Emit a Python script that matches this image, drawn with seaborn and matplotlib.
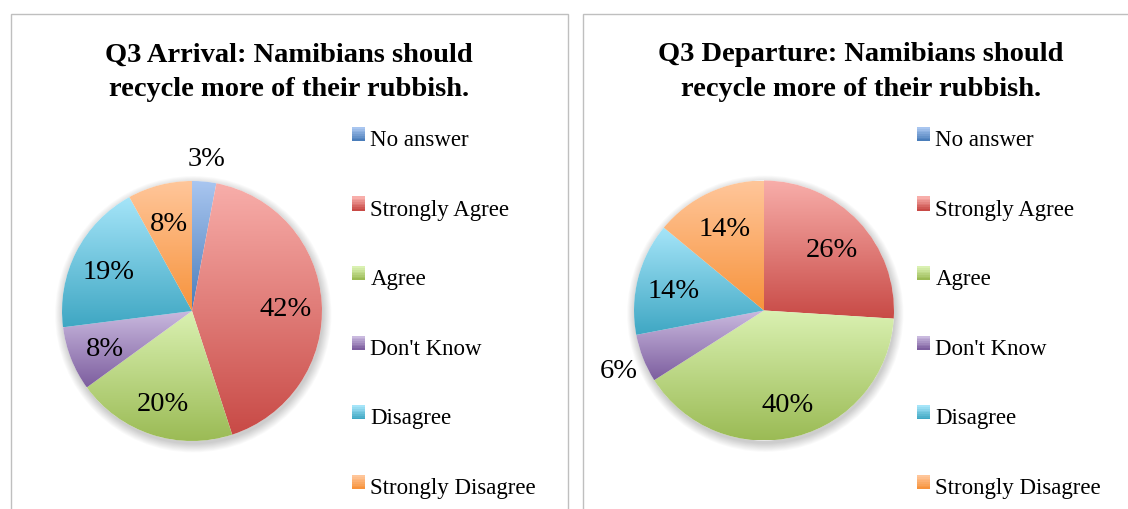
import numpy as np
import matplotlib
matplotlib.use("Agg")
import matplotlib.pyplot as plt
from matplotlib.patches import Rectangle, Circle, Patch
from matplotlib.colors import ListedColormap
from matplotlib.legend_handler import HandlerBase
import seaborn as sns

# ---- data -------------------------------------------------------------
categories = ["No answer", "Strongly Agree", "Agree", "Don't Know",
              "Disagree", "Strongly Disagree"]
arrival_pct = [3, 42, 20, 8, 19, 8]
departure_pct = [0, 26, 40, 6, 14, 14]
titles = ["Q3 Arrival: Namibians should\nrecycle more of their rubbish.",
          "Q3 Departure: Namibians should\nrecycle more of their rubbish."]

# ---- style ------------------------------------------------------------
sns.set_theme(style="white")
plt.rcParams["font.family"] = ["Liberation Serif", "DejaVu Serif"]
plt.rcParams["text.color"] = "black"

light = ["#A9C6F0", "#F8AEAA", "#DAF1B2", "#CABADF", "#A6E5F9", "#FFC69A"]
dark = ["#4A7DBA", "#C84A46", "#9BBB55", "#7D5E9F", "#3FA7C3", "#F7933C"]
cmaps = [ListedColormap(sns.blend_palette([d, l], n_colors=256))
         for l, d in zip(light, dark)]

W, H = 1128, 510
fig = plt.figure(figsize=(W / 100, H / 100), dpi=100)
fig.patch.set_facecolor("white")

# panel frames
for x0 in (11, 583):
    fig.patches.append(Rectangle((x0 / W, -0.2), 557 / W, 1.2 - 15 / H,
                                 transform=fig.transFigure, fill=False,
                                 edgecolor="#BFBFBF", lw=1.0, zorder=0))


class GradientSquare(HandlerBase):
    """Legend key drawn as a small vertical colour ramp."""

    def __init__(self, cmap):
        super().__init__()
        self.cmap = cmap

    def create_artists(self, legend, orig_handle, xdescent, ydescent,
                       width, height, fontsize, trans):
        n = 8
        lift = 0.2 * height
        arts = []
        for i in range(n):
            r = Rectangle((-xdescent, -ydescent + lift + height * i / n),
                          width, height / n + 0.3,
                          facecolor=self.cmap(i / (n - 1)),
                          edgecolor="none", transform=trans)
            arts.append(r)
        return arts


R_PX = 130.0
LIM = 1.3
side = 2 * LIM * R_PX


def draw_pie(values, cx, cy, title, title_x, legend_x):
    ax = fig.add_axes([(cx - side / 2) / W, (H - cy - side / 2) / H,
                       side / W, side / H])
    ax.set_axis_off()

    # soft drop shadow under the pie
    for i in range(10):
        ax.add_patch(Circle((0.01, -0.025), 1.0 + 0.007 * i, color="black",
                            alpha=0.02, lw=0, zorder=0))
    ax.add_patch(Circle((0, 0), 1.0, color="white", lw=0, zorder=0.5))

    wedges, _ = ax.pie(values, startangle=90, counterclock=False, radius=1.0,
                       wedgeprops=dict(linewidth=0))
    grad = np.linspace(0, 1, 256).reshape(-1, 1)
    for w, v, cm in zip(wedges, values, cmaps):
        w.set_facecolor("none")
        w.set_edgecolor("none")
        if v <= 0:
            continue
        ext = w.get_path().get_extents()
        im = ax.imshow(grad, extent=[ext.x0, ext.x1, ext.y0, ext.y1],
                       origin="lower", cmap=cm, aspect="auto",
                       interpolation="bilinear", zorder=1)
        im.set_clip_path(w)
        mid = np.deg2rad((w.theta1 + w.theta2) / 2)
        dist = 0.72 if v >= 7 else 1.2
        ax.text(dist * np.cos(mid), dist * np.sin(mid), f"{v}%",
                ha="center", va="center_baseline", fontsize=20.5,
                color="black", zorder=3)
    ax.set_xlim(-LIM, LIM)
    ax.set_ylim(-LIM, LIM)
    ax.set_aspect("equal")

    fig.text(title_x / W, 1 - 72 / H, title, ha="center", va="center",
             fontsize=20.5, fontweight="bold", linespacing=1.5)

    handles = [Patch() for _ in categories]
    hmap = {h: GradientSquare(cm) for h, cm in zip(handles, cmaps)}
    fig.legend(handles, categories, handler_map=hmap, loc="upper left",
               bbox_to_anchor=(legend_x / W, 1 - 130 / H), frameon=False,
               fontsize=16.5, labelspacing=2.12, handlelength=0.55,
               handleheight=0.55, handletextpad=0.25, borderpad=0,
               borderaxespad=0)


draw_pie(arrival_pct, 192, 312, titles[0], 289, 352)
draw_pie(departure_pct, 764, 311.5, titles[1], 861, 917)

fig.savefig("out.png", dpi=100, facecolor="white")
